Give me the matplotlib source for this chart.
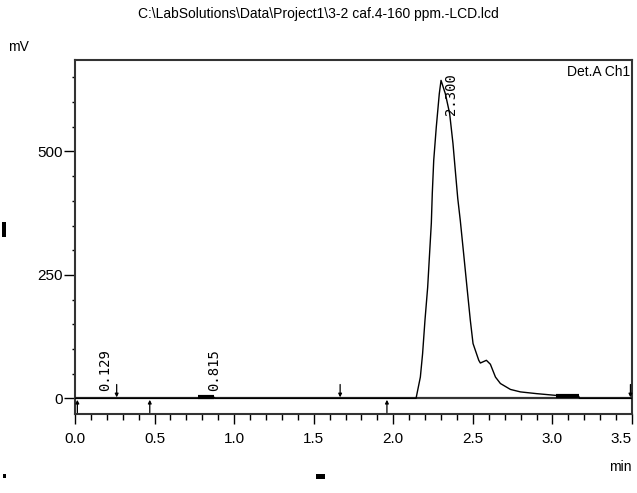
import matplotlib.pyplot as plt
from matplotlib.patches import Rectangle
from matplotlib.ticker import MultipleLocator

plt.rcParams["font.family"] = ["Liberation Sans", "DejaVu Sans"]

# chromatogram trace (min, mV)
time_min = [0.00, 0.77, 0.80, 0.87, 0.88, 2.143, 2.170, 2.184, 2.199, 2.216,
            2.228, 2.239, 2.245, 2.254, 2.270, 2.289, 2.300, 2.327, 2.354,
            2.375, 2.390, 2.405, 2.421, 2.442, 2.463, 2.484, 2.501, 2.537,
            2.547, 2.585, 2.610, 2.642, 2.673, 2.736, 2.799, 2.900, 3.020,
            3.165, 3.170, 3.50]
signal_mv = [0, 0, 3, 3, 0, 0, 43, 90, 158, 225,
             293, 355, 415, 482, 549, 617, 644, 617, 577,
             516, 460, 405, 360, 293, 225, 158, 111, 77,
             71.5, 77, 69, 43, 30, 18, 13, 9.5, 6,
             4, 0, 0]

# thick integration segments
seg_start = [0.77, 3.02]
seg_end = [0.875, 3.165]
seg_level = [2, 5]

# peak labels
peak_rt = ["0.129", "0.815", "2.300"]
peak_label_x = [0.19, 0.875, 2.36]
peak_label_y = [14, 14, 573]

# baseline event arrows
down_marks = [0.262, 1.666, 3.49]
up_marks = [0.015, 0.47, 1.96]

x_ticks = [0.0, 0.5, 1.0, 1.5, 2.0, 2.5, 3.0, 3.5]

fig = plt.figure(figsize=(6.37, 4.93), dpi=100)
ax = fig.add_axes([0.1177, 0.160, 0.8745, 0.718])

ax.axhline(0, color="#333333", lw=1.6, zorder=1)
ax.plot(time_min, signal_mv, color="black", lw=1.0, zorder=3)
for a, b, lv in zip(seg_start, seg_end, seg_level):
    ax.plot([a, b], [lv, lv], color="black", lw=3, solid_capstyle="butt", zorder=3)

for t in down_marks:
    ax.annotate("", xy=(t, 2), xytext=(t, 28),
                arrowprops=dict(arrowstyle="-|>", color="black", lw=0.9,
                                mutation_scale=5, shrinkA=0, shrinkB=0))
for t in up_marks:
    ax.annotate("", xy=(t, -3), xytext=(t, -29),
                arrowprops=dict(arrowstyle="-|>", color="black", lw=0.9,
                                mutation_scale=5, shrinkA=0, shrinkB=0))

for lab, x, y in zip(peak_rt, peak_label_x, peak_label_y):
    ax.text(x, y, lab, rotation=90, ha="center", va="bottom",
            fontsize=10, family="DejaVu Sans Mono")

ax.set_xlim(0, 3.5)
ax.set_ylim(-32, 685)
ax.set_xticks(x_ticks, [f"{v:.1f}" for v in x_ticks])
ax.xaxis.set_minor_locator(MultipleLocator(0.1))
ax.yaxis.set_major_locator(MultipleLocator(250))
ax.yaxis.set_minor_locator(MultipleLocator(50))
ax.yaxis.set_major_formatter(lambda v, p: f"{v:.0f}")
ax.tick_params(axis="x", which="major", direction="out", length=7, width=1, labelsize=11, pad=6)
ax.tick_params(axis="x", which="minor", direction="out", length=4, width=1)
ax.tick_params(axis="y", which="major", direction="out", length=8, width=1, labelsize=11, pad=1)
ax.tick_params(axis="y", which="minor", direction="out", length=2, width=1)
ax.get_xticklabels()[-1].set_horizontalalignment("right")
for s in ax.spines.values():
    s.set_linewidth(1.5)
    s.set_color("#333333")

ax.text(0.997, 0.985, "Det.A Ch1", transform=ax.transAxes, ha="right", va="top", fontsize=10)
fig.text(0.5, 0.972, r"C:\LabSolutions\Data\Project1\3-2 caf.4-160 ppm.-LCD.lcd",
         ha="center", va="center", fontsize=10)
fig.text(0.012, 0.905, "mV", ha="left", va="center", fontsize=10)
fig.text(0.992, 0.052, "min", ha="right", va="center", fontsize=10)

# small scan specks in the original image
for (x0, y0, w, h) in [(2, 222, 4, 15), (316, 474, 9, 5), (3, 474, 3, 4)]:
    fig.add_artist(Rectangle((x0 / 637, 1 - (y0 + h) / 493), w / 637, h / 493,
                             transform=fig.transFigure, color="black", lw=0))

fig.savefig("out.png", dpi=100)
